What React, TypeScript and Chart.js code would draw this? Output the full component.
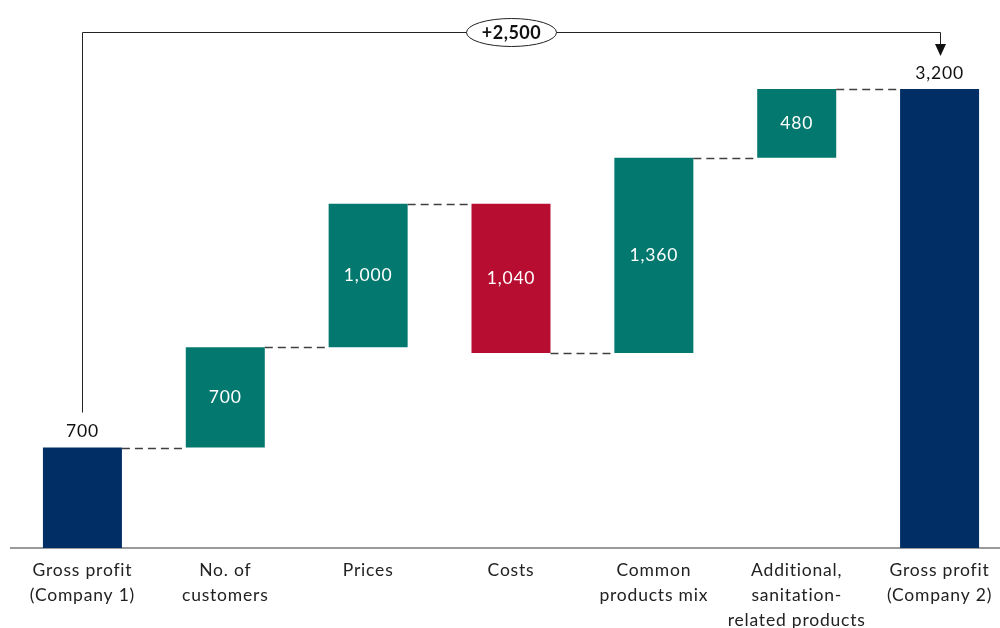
import React, { useEffect, useRef } from "react";
import { Chart, registerables } from "chart.js";

Chart.register(...registerables);

const categories: string[][] = [
  ["Gross profit", "(Company 1)"],
  ["No. of", "customers"],
  ["Prices"],
  ["Costs"],
  ["Common", "products mix"],
  ["Additional,", "sanitation-", "related products"],
  ["Gross profit", "(Company 2)"],
];
const deltas: number[] = [700, 700, 1000, -1040, 1360, 480, 3200];
const kinds: string[] = ["total", "up", "up", "down", "up", "up", "total"];
const totalChangeLabel = "+2,500";

const COLORS: Record<string, string> = {
  total: "#022E66",
  up: "#03786F",
  down: "#B70D30",
};
const FONT = "Lato, 'Open Sans', sans-serif";
const SPACING = "0.8px";

function buildRanges(): { ranges: [number, number][]; ends: number[] } {
  const ranges: [number, number][] = [];
  const ends: number[] = [];
  let run = 0;
  deltas.forEach((d, i) => {
    if (kinds[i] === "total") {
      ranges.push([0, d]);
      run = d;
    } else {
      ranges.push([run, run + d]);
      run = run + d;
    }
    ends.push(run);
  });
  return { ranges, ends };
}

const fmt = (v: number) => Math.abs(v).toLocaleString("en-US");

export default function App() {
  const ref = useRef<HTMLCanvasElement | null>(null);

  useEffect(() => {
    if (!ref.current) return;
    const { ranges, ends } = buildRanges();

    const spacing = {
      id: "letterSpacing",
      beforeInit(chart: any) {
        (chart.ctx as any).letterSpacing = SPACING;
      },
      beforeUpdate(chart: any) {
        (chart.ctx as any).letterSpacing = SPACING;
      },
      beforeDraw(chart: any) {
        (chart.ctx as any).letterSpacing = SPACING;
      },
    };

    const overlay = {
      id: "waterfallOverlay",
      afterDatasetsDraw(chart: any) {
        const ctx = chart.ctx as CanvasRenderingContext2D;
        const meta = chart.getDatasetMeta(0);
        const yScale = chart.scales.y;
        const els = meta.data as any[];
        ctx.save();

        // connectors
        ctx.strokeStyle = "#404040";
        ctx.lineWidth = 1.6;
        ctx.setLineDash([8, 5]);
        for (let i = 0; i < els.length - 1; i++) {
          const a = els[i];
          const b = els[i + 1];
          const y = Math.round(yScale.getPixelForValue(ends[i])) + 0.5;
          ctx.beginPath();
          ctx.moveTo(a.x + a.width / 2, y);
          ctx.lineTo(b.x - b.width / 2, y);
          ctx.stroke();
        }
        ctx.setLineDash([]);

        // labels
        (ctx as any).letterSpacing = SPACING;
        ctx.textAlign = "center";
        ctx.textBaseline = "middle";
        ctx.font = `17.5px ${FONT}`;
        els.forEach((el, i) => {
          const top = Math.min(el.y, el.base);
          const bottom = Math.max(el.y, el.base);
          if (kinds[i] === "total") {
            ctx.fillStyle = "#111";
            ctx.fillText(fmt(deltas[i]), el.x, top - 16);
          } else {
            ctx.fillStyle = "#ffffff";
            ctx.fillText(fmt(deltas[i]), el.x, (top + bottom) / 2);
          }
        });

        // bracket
        const first = els[0];
        const last = els[els.length - 1];
        const firstTop = Math.min(first.y, first.base);
        const lastTop = Math.min(last.y, last.base);
        const lineY = chart.chartArea.top + 27.5;
        const x0 = Math.round(first.x) + 0.5;
        const x1 = Math.round(last.x) + 0.5;
        ctx.strokeStyle = "#222";
        ctx.lineWidth = 1;
        ctx.beginPath();
        ctx.moveTo(x0, firstTop - 35);
        ctx.lineTo(x0, lineY);
        ctx.lineTo(x1, lineY);
        ctx.lineTo(x1, lastTop - 44);
        ctx.stroke();
        // arrowhead
        ctx.fillStyle = "#111";
        ctx.beginPath();
        ctx.moveTo(x1 - 5.5, lastTop - 45);
        ctx.lineTo(x1 + 5.5, lastTop - 45);
        ctx.lineTo(x1, lastTop - 33);
        ctx.closePath();
        ctx.fill();

        // ellipse badge
        const cx = (x0 + x1) / 2;
        ctx.beginPath();
        ctx.ellipse(cx, lineY, 45, 14, 0, 0, Math.PI * 2);
        ctx.fillStyle = "#ffffff";
        ctx.fill();
        ctx.strokeStyle = "#222";
        ctx.stroke();
        ctx.fillStyle = "#111";
        (ctx as any).letterSpacing = "0.5px";
        ctx.font = `bold 18px ${FONT}`;
        ctx.fillText(totalChangeLabel, cx, lineY + 1);

        ctx.restore();
      },
    };

    const chart = new Chart(ref.current, {
      type: "bar",
      data: {
        labels: categories,
        datasets: [
          {
            data: ranges as any,
            backgroundColor: kinds.map((k) => COLORS[k]),
            borderWidth: 0,
            categoryPercentage: 1,
            barPercentage: 0.553,
          },
        ],
      },
      options: {
        responsive: false,
        animation: false,
        layout: { padding: { left: 11, right: 1, top: 5, bottom: 0 } },
        plugins: {
          legend: { display: false },
          tooltip: { enabled: false },
        },
        scales: {
          x: {
            grid: { display: false, drawTicks: false },
            border: { display: true, color: "#9a9a9a", width: 2 },
            ticks: {
              color: "#222",
              font: { family: FONT, size: 17.5, lineHeight: 1.43 },
              padding: 10,
              maxRotation: 0,
              autoSkip: false,
            },
            afterFit: (scale: any) => {
              scale.height = 80;
            },
          },
          y: {
            display: false,
            min: 0,
            max: 3785,
          },
        },
      },
      plugins: [spacing, overlay],
    });

    return () => chart.destroy();
  }, []);

  return (
    <div
      style={{
        position: "fixed",
        left: 0,
        top: 0,
        width: 1000,
        height: 628,
        overflow: "hidden",
        background: "#fff",
      }}
    >
      <canvas ref={ref} width={1012} height={628} style={{ display: "block" }} />
    </div>
  );
}
